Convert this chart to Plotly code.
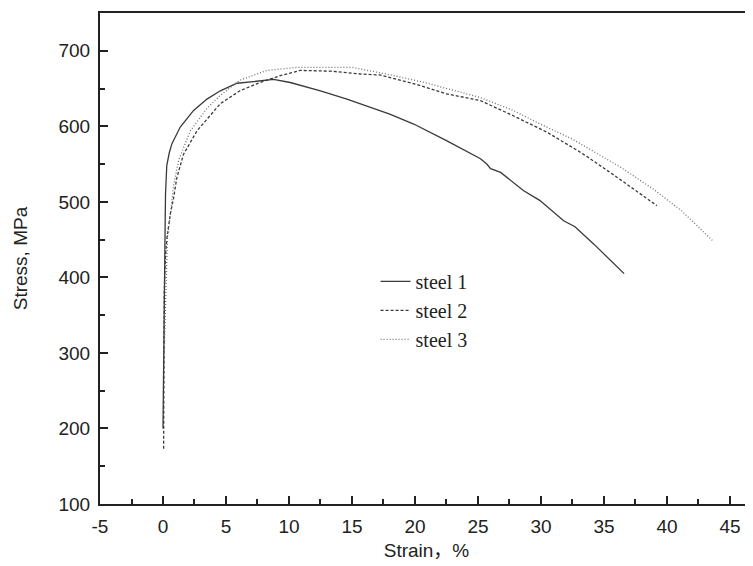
import plotly.graph_objects as go

# ---- data ----
steel1_strain = [0.0, 0.05, 0.1, 0.17, 0.2, 0.3, 0.5, 0.71, 1.37, 2.43, 3.49, 4.55, 5.87, 7.46, 8.78,
                 10.1, 12.5, 14.6, 16.7, 18.0, 19.9, 22.5, 25.2, 25.7, 26.0, 26.8, 28.6, 29.9, 31.8,
                 32.7, 34.2, 36.6]
steel1_stress = [200, 320, 420, 470, 510, 548, 565, 577, 599, 621, 636, 647, 657, 660, 662,
                 658, 647, 636, 623, 616, 603, 581, 557, 550, 544, 539, 515, 502, 475,
                 467, 444, 405]

steel2_strain = [0.05, 0.05, 0.1, 0.2, 0.32, 0.58, 0.84, 1.1, 1.63, 2.7, 4.55, 6.1, 7.7, 9.3, 10.9,
                 13.3, 15.9, 17.2, 20.0, 22.5, 25.2, 27.8, 30.5, 32.9, 33.65, 36.0, 39.2]
steel2_stress = [173, 250, 380, 430, 453, 484, 505, 532, 563, 594, 630, 647, 658, 667, 674,
                 673, 669, 668, 656, 643, 634, 614, 592, 568, 560, 533, 495]

steel3_strain = [0.1, 0.25, 0.35, 0.6, 0.84, 1.24, 2.17, 3.5, 4.55, 6.1, 8.25, 10.6, 13.3, 15.0,
                 17.8, 20.5, 23.0, 25.2, 27.8, 29.7, 32.5, 36.3, 38.9, 41.1, 43.6]
steel3_stress = [300, 400, 453, 484, 522, 555, 594, 624, 641, 661, 674, 678, 678, 678,
                 669, 659, 648, 638, 621, 605, 583, 546, 517, 489, 449]

series_names = ["steel 1", "steel 2", "steel 3"]

x_ticks = [-5, 0, 5, 10, 15, 20, 25, 30, 35, 40, 45]
x_tick_labels = ["-5", "0", "5", "10", "15", "20", "25", "30", "35", "40", "45"]
y_ticks = [100, 200, 300, 400, 500, 600, 700]
y_tick_labels = ["100", "200", "300", "400", "500", "600", "700"]

fig = go.Figure()
fig.add_trace(go.Scatter(x=steel1_strain, y=steel1_stress, mode="lines", name=series_names[0],
                         line=dict(color="#3a3a3a", width=1.3, dash="solid")))
fig.add_trace(go.Scatter(x=steel2_strain, y=steel2_stress, mode="lines", name=series_names[1],
                         line=dict(color="#3a3a3a", width=1.3, dash="3px,2px")))
fig.add_trace(go.Scatter(x=steel3_strain, y=steel3_stress, mode="lines", name=series_names[2],
                         line=dict(color="#707070", width=1.3, dash="1px,2px")))

tickfont = dict(family="Liberation Sans, Arial, sans-serif", size=19, color="#222")
fig.update_layout(
    # the page body adds an 8px margin, so the figure is drawn 8px smaller and offset
    width=745, height=558,
    margin=dict(l=92, r=0, t=5, b=62),
    paper_bgcolor="white", plot_bgcolor="white",
    showlegend=True,
    legend=dict(x=0.422, y=0.493, xanchor="left", yanchor="top",
                bgcolor="rgba(0,0,0,0)", tracegroupgap=0,
                font=dict(family="Liberation Serif, Times New Roman, serif", size=20, color="#222")),
    xaxis=dict(range=[-5, 46.83], tickvals=x_ticks, ticktext=x_tick_labels, ticks="inside",
               ticklen=8, tickwidth=1.5, automargin=False,
               tickcolor="#222", showline=True, linecolor="#222", linewidth=2, mirror=True,
               showgrid=False, zeroline=False, tickfont=tickfont, ticklabelstandoff=4,
               minor=dict(dtick=2.5, tick0=0, ticks="inside", ticklen=5, tickwidth=1.5, tickcolor="#222"),
               title=dict(text="Strain，%", standoff=8,
                          font=dict(family="Liberation Sans, Arial, Noto Sans CJK SC, sans-serif",
                                    size=19, color="#222"))),
    yaxis=dict(range=[100, 750], tickvals=y_ticks, ticktext=y_tick_labels, ticks="inside",
               ticklen=8, tickwidth=1.5, automargin=False,
               tickcolor="#222", showline=True, linecolor="#222", linewidth=2, mirror=False,
               showgrid=False, zeroline=False, tickfont=tickfont, ticklabelstandoff=4,
               minor=dict(dtick=50, tick0=0, ticks="inside", ticklen=5, tickwidth=1.5, tickcolor="#222"),
               title=dict(text="Stress, MPa", standoff=26,
                          font=dict(family="Liberation Sans, Arial, sans-serif", size=19, color="#222"))),
)

fig.write_html("out.html")
